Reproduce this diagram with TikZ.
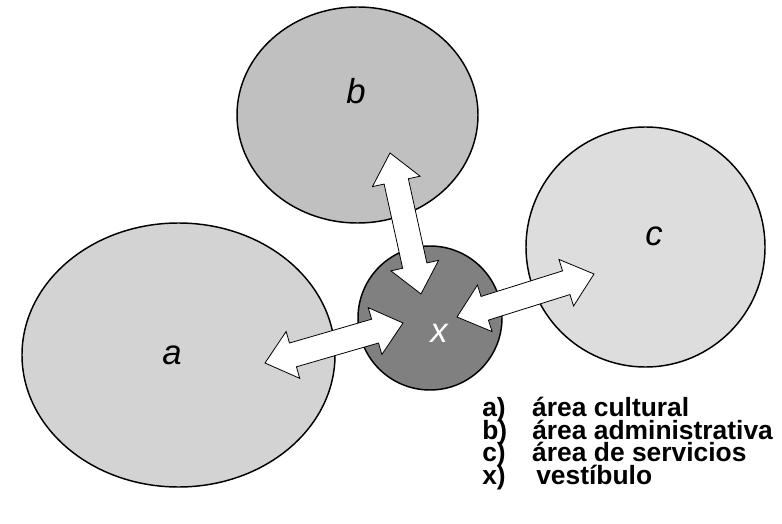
\documentclass[tikz,border=0pt]{standalone}
\usepackage{fontspec}
\setmainfont{Liberation Sans}
\usetikzlibrary{shapes.geometric, shapes.arrows, calc}

\definecolor{culturalgray}{RGB}{211,211,211}
\definecolor{admingray}{RGB}{192,192,192}
\definecolor{servicegray}{RGB}{221,221,221}
\definecolor{lobbygray}{RGB}{128,128,128}

\newcommand{\keyfont}{\fontsize{19.8}{17}\selectfont\bfseries\setlength{\lineskiplimit}{-20pt}}

\begin{document}
\begin{tikzpicture}[x=0.75pt, y=-0.75pt]
    % Define styles
    \tikzstyle{zone} = [draw, ellipse, line width=1.1pt, inner sep=0pt]
    \tikzstyle{letter} = [font=\fontsize{26}{30}\selectfont\itshape]
    \tikzstyle{link} = [draw, fill=white, double arrow, line width=0.6pt, inner xsep=0pt, inner ysep=9pt, double arrow head extend=9pt, double arrow tip angle=80]
    \tikzstyle{legend} = [anchor=north west, align=left, inner sep=0pt, font=\keyfont]

    \useasboundingbox (0,0) rectangle (782,524);

    % Areas
    \node [zone, fill=culturalgray, minimum width=234.75pt, minimum height=198pt] (a) at (178.5,355) {};
    \node [zone, fill=admingray, minimum width=180.75pt, minimum height=162pt] (b) at (357.5,115) {};
    \node [zone, fill=servicegray, minimum width=179.25pt, minimum height=180pt] (c) at (645.5,247) {};
    \node [zone, fill=lobbygray, minimum width=108pt, minimum height=108pt] (x) at (430,318) {};

    % Letters
    \node [letter] (a-name) at (172,355) {a};
    \node [letter] (b-name) at (356,91) {b};
    \node [letter] (c-name) at (654,236) {c};
    \node [letter, text=white] (x-name) at (439,333) {x};

    % Arrow ends
    \coordinate (b-end) at (390,153);
    \coordinate (xb-end) at (421,294);
    \coordinate (a-end) at (265,363);
    \coordinate (xa-end) at (403,323);
    \coordinate (xc-end) at (457,317);
    \coordinate (c-end) at (594,274);

    % Connections
    \foreach \from/\to in {b-end/xb-end, a-end/xa-end, xc-end/c-end}
        \path let \p1 = ($(\to)-(\from)$), \n1 = {atan2(\y1,\x1)}, \n2 = {veclen(\x1,\y1)} in
            node [link, minimum height=\n2, rotate=\n1] at ($(\from)!0.5!(\to)$) {};

    % Legend
    \node [legend] (key) at (482,397) {\makebox[37.5pt][l]{a)}área cultural\\
        \makebox[37.5pt][l]{b)}área administrativa\\
        \makebox[37.5pt][l]{c)}área de servicios\\
        \makebox[37.5pt][l]{x)}\hspace{3pt}vestíbulo};
\end{tikzpicture}
\end{document}
